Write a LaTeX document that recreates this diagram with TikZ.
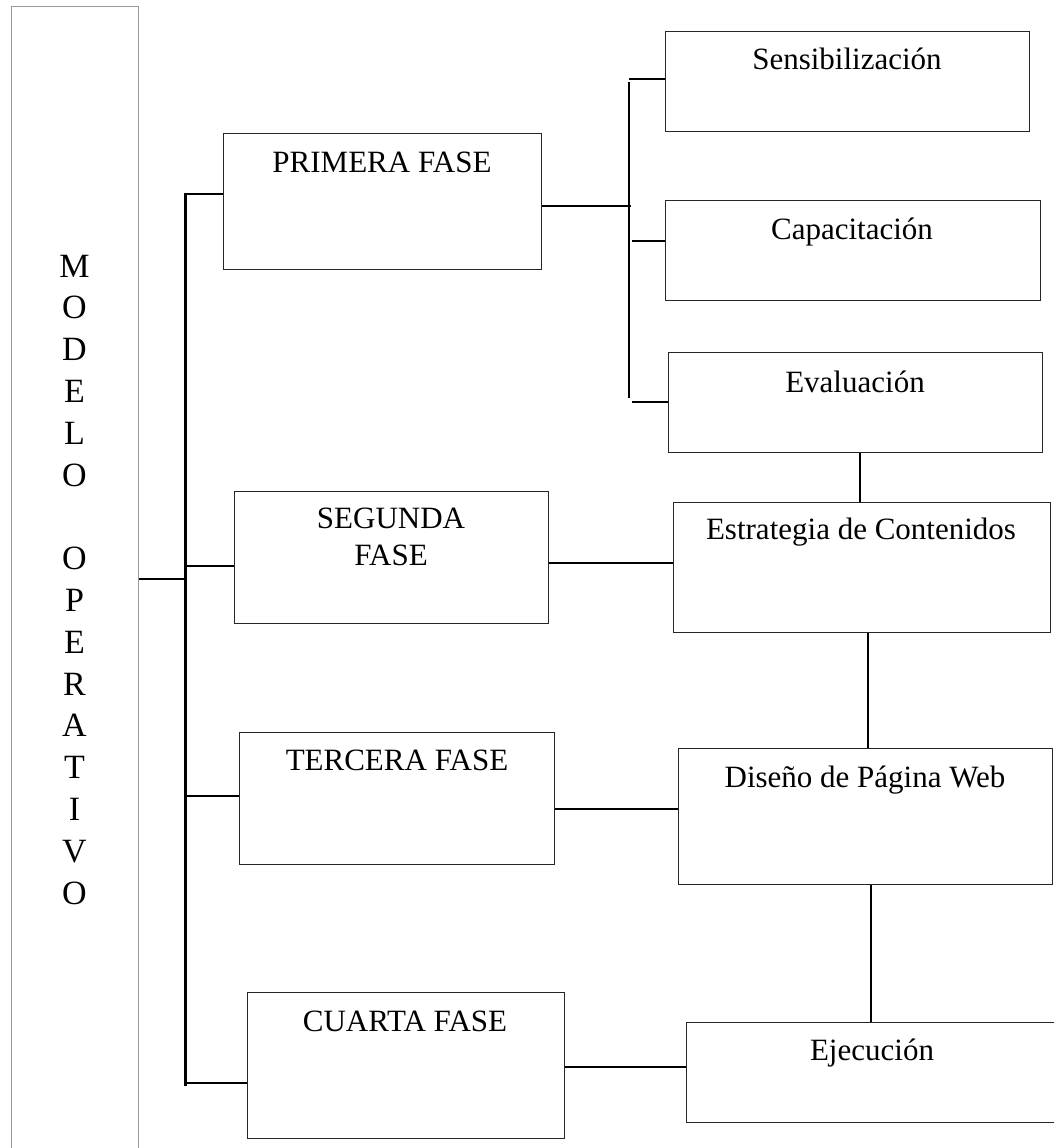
\documentclass[tikz,border=0pt]{standalone}
\usepackage{fontspec}
\setmainfont{Liberation Serif}
\begin{document}
\begin{tikzpicture}[x=1pt,y=-1pt,
  box/.style={draw=black!85, line width=1.3pt, rectangle, anchor=north west, inner sep=0pt},
  lbl/.style={anchor=base, inner sep=0pt, font=\fontsize{31}{37}\selectfont},
  vl/.style={anchor=base, inner sep=0pt, font=\fontsize{34}{42}\selectfont},
  conn/.style={line width=2pt, black},
  mainbus/.style={line width=3pt, black}]
\useasboundingbox (0,0) rectangle (1053,1148);

% left tall box
\node[box, draw=gray!80, line width=1.2pt, minimum width=127pt, minimum height=1160pt] (modelo) at (11,6) {};
\foreach \ch [count=\i from 0] in {M,O,D,E,L,O} {
  \node[vl] (va\i) at (74.5, 277+41.8*\i) {\ch};
}
\foreach \ch [count=\i from 7] in {O,P,E,R,A,T,I,V,O} {
  \node[vl] (vb\i) at (74.5, 277+41.8*\i) {\ch};
}

% phase boxes
\node[box, minimum width=318pt, minimum height=136pt] (primera) at (223,133) {};
\node[box, minimum width=314pt, minimum height=132pt] (segunda) at (234,491) {};
\node[box, minimum width=315pt, minimum height=132pt] (tercera) at (239,732) {};
\node[box, minimum width=317pt, minimum height=146pt] (cuarta) at (247,992) {};

% right boxes
\node[box, minimum width=364pt, minimum height=100pt] (sensib) at (665,31) {};
\node[box, minimum width=375pt, minimum height=100pt] (capac) at (665,200) {};
\node[box, minimum width=374pt, minimum height=100pt] (evalua) at (668,352) {};
\node[box, minimum width=377pt, minimum height=130pt] (estrat) at (673,502) {};
\node[box, minimum width=374pt, minimum height=136pt] (diseno) at (678,748) {};
\node[box, minimum width=372pt, minimum height=100pt] (ejec) at (686,1022) {};

% labels
\node[lbl] (tprimera) at (382,172) {PRIMERA FASE};
\node[lbl] (tsegunda1) at (391,528) {SEGUNDA};
\node[lbl] (tsegunda2) at (391,565) {FASE};
\node[lbl] (ttercera) at (397,770) {TERCERA FASE};
\node[lbl] (tcuarta) at (405,1031) {CUARTA FASE};
\node[lbl] (tsensib) at (847,70) {Sensibilización};
\node[lbl] (tcapac) at (852,239) {Capacitación};
\node[lbl] (tevalua) at (855,392) {Evaluación};
\node[lbl] (testrat) at (861,539) {Estrategia de Contenidos};
\node[lbl] (tdiseno) at (865,787) {Diseño de Página Web};
\node[lbl] (tejec) at (872,1060) {Ejecución};

% main bus
\coordinate (bT) at (185,193);
\coordinate (bB) at (185,1086);
\draw[mainbus] (bT) -- (bB);
\coordinate (j0) at (185,579);
\draw[conn] (modelo.east |- j0) -- (j0);
\coordinate (j1) at (185,194);
\draw[conn] (j1) -- (j1 -| primera.west);
\coordinate (j2) at (185,566);
\draw[conn] (j2) -- (j2 -| segunda.west);
\coordinate (j3) at (185,796);
\draw[conn] (j3) -- (j3 -| tercera.west);
\coordinate (j4) at (185,1083);
\draw[conn] (j4) -- (j4 -| cuarta.west);

% right bus of first phase
\coordinate (rT) at (629,82);
\coordinate (rB) at (629,398);
\draw[conn] (rT) -- (rB);
\coordinate (k0) at (631,206);
\draw[conn] (primera.east |- k0) -- (k0);
\coordinate (k1) at (629,79);
\draw[conn] (k1) -- (k1 -| sensib.west);
\coordinate (k2) at (632,241);
\draw[conn] (k2) -- (k2 -| capac.west);
\coordinate (k3) at (632,402);
\draw[conn] (k3) -- (k3 -| evalua.west);

% vertical chain
\coordinate (v1) at (860,0);
\draw[conn] (evalua.south -| v1) -- (estrat.north -| v1);
\coordinate (v2) at (868,0);
\draw[conn] (estrat.south -| v2) -- (diseno.north -| v2);
\coordinate (v3) at (871,0);
\draw[conn] (diseno.south -| v3) -- (ejec.north -| v3);

% phase to right boxes
\coordinate (h2) at (0,563);
\draw[conn] (segunda.east |- h2) -- (estrat.west |- h2);
\coordinate (h3) at (0,809);
\draw[conn] (tercera.east |- h3) -- (diseno.west |- h3);
\coordinate (h4) at (0,1067);
\draw[conn] (cuarta.east |- h4) -- (ejec.west |- h4);
\end{tikzpicture}
\end{document}
